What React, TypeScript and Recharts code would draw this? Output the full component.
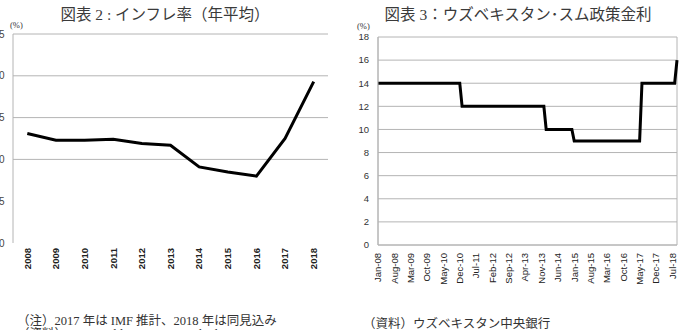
import React from 'react';
import { LineChart, Line, XAxis, YAxis, CartesianGrid } from 'recharts';

// ---- Chart 2: inflation (annual average) ----
const inflationYears = ['2008', '2009', '2010', '2011', '2012', '2013', '2014', '2015', '2016', '2017', '2018'];
const inflationValues = [13.1, 12.3, 12.3, 12.4, 11.9, 11.7, 9.1, 8.5, 8.0, 12.5, 19.3];
const inflationTicks = [0, 5, 10, 15, 20, 25];
const inflationGridValues = [10, 15, 20, 25];

// ---- Chart 3: Uzbek sum policy rate (monthly, Jan-08 .. Sep-18) ----
const rateMonthNames = ['Jan', 'Feb', 'Mar', 'Apr', 'May', 'Jun', 'Jul', 'Aug', 'Sep', 'Oct', 'Nov', 'Dec'];
const rateYearLabels = ['08', '09', '10', '11', '12', '13', '14', '15', '16', '17', '18'];
const rateValues = [
  14, 14, 14, 14, 14, 14, 14, 14, 14, 14, 14, 14, // 2008
  14, 14, 14, 14, 14, 14, 14, 14, 14, 14, 14, 14, // 2009
  14, 14, 14, 14, 14, 14, 14, 14, 14, 14, 14, 14, // 2010
  12, 12, 12, 12, 12, 12, 12, 12, 12, 12, 12, 12, // 2011
  12, 12, 12, 12, 12, 12, 12, 12, 12, 12, 12, 12, // 2012
  12, 12, 12, 12, 12, 12, 12, 12, 12, 12, 12, 12, // 2013
  10, 10, 10, 10, 10, 10, 10, 10, 10, 10, 10, 10, // 2014
  9, 9, 9, 9, 9, 9, 9, 9, 9, 9, 9, 9, // 2015
  9, 9, 9, 9, 9, 9, 9, 9, 9, 9, 9, 9, // 2016
  9, 9, 9, 9, 9, 14, 14, 14, 14, 14, 14, 14, // 2017
  14, 14, 14, 14, 14, 14, 14, 14, 16, // 2018 (Jan-Sep)
];
const rateTicks = [0, 2, 4, 6, 8, 10, 12, 14, 16, 18];

const inflationData = inflationYears.map((year, i) => ({ year, value: inflationValues[i] }));
const rateData = rateValues.map((value, i) => ({
  month: `${rateMonthNames[i % 12]}-${rateYearLabels[Math.floor(i / 12)]}`,
  value,
}));

const SANS = '"Liberation Sans", Arial, sans-serif';
const SERIF_JP = '"Liberation Serif", "Noto Sans CJK JP", serif';

const makeRotTick = (gap: number, fontSize: number, weight: number | string, fill: string) =>
  (props: any) => {
    const { x, y, payload } = props;
    return (
      <g transform={`translate(${x},${y + gap})`}>
        <text
          transform="rotate(-90)"
          textAnchor="end"
          dy="0.35em"
          fontSize={fontSize}
          fontFamily={SANS}
          fontWeight={weight}
          fill={fill}
        >
          {payload.value}
        </text>
      </g>
    );
  };

const LeftTick = makeRotTick(5, 9.5, 700, '#222');
const RightTick = makeRotTick(8, 9.5, 400, '#222');

export default function App() {
  return (
    <div style={{ position: 'relative', width: 683, height: 330, overflow: 'hidden', background: '#fff' }}>
      <style>{`body{margin:0;}`}</style>

      {/* Left chart */}
      <div style={{ position: 'absolute', left: -40, top: 0 }}>
        <LineChart
          width={380}
          height={330}
          data={inflationData}
          margin={{ top: 34, right: 12, bottom: 57, left: 23 }}
        >
          <CartesianGrid
            vertical={false}
            horizontalValues={inflationGridValues}
            stroke="#b4b4b4"
            strokeWidth={1}
          />
          <XAxis
            dataKey="year"
            interval={0}
            height={30}
            padding={{ left: 14.3, right: 14.3 }}
            axisLine={false}
            tickLine={false}
            tickSize={0}
            tickMargin={0}
            tick={LeftTick}
          />
          <YAxis
            width={30}
            domain={[0, 25]}
            ticks={inflationTicks}
            interval={0}
            axisLine={{ stroke: '#b4b4b4' }}
            tickLine={false}
            tickSize={0}
            tickMargin={8.5}
            tick={{ fontSize: 10, fontFamily: SANS, fill: '#444' }}
          />
          <Line
            type="linear"
            dataKey="value"
            stroke="#000"
            strokeWidth={3}
            dot={false}
            isAnimationActive={false}
          />
        </LineChart>
      </div>

      {/* Right chart */}
      <div style={{ position: 'absolute', left: 340, top: 0 }}>
        <LineChart
          width={343}
          height={330}
          data={rateData}
          margin={{ top: 37, right: 6, bottom: 55, left: 8 }}
        >
          <CartesianGrid
            stroke="#b4b4b4"
            strokeWidth={1}
            verticalCoordinatesGenerator={({ offset }: any) => [offset.left, offset.left + offset.width]}
          />
          <XAxis
            dataKey="month"
            scale="point"
            interval={6}
            height={30}
            axisLine={{ stroke: '#b4b4b4' }}
            tickLine={false}
            tickSize={0}
            tickMargin={0}
            tick={RightTick}
          />
          <YAxis
            width={30}
            domain={[0, 18]}
            ticks={rateTicks}
            interval={0}
            axisLine={{ stroke: '#b4b4b4' }}
            tickLine={false}
            tickSize={0}
            tickMargin={9}
            tick={{ fontSize: 9.5, fontFamily: SANS, fill: '#333' }}
          />
          <Line
            type="linear"
            dataKey="value"
            stroke="#000"
            strokeWidth={3}
            dot={false}
            isAnimationActive={false}
          />
        </LineChart>
      </div>

      {/* Titles, unit labels and notes */}
      <svg
        width={683}
        height={330}
        style={{ position: 'absolute', left: 0, top: 0, pointerEvents: 'none' }}
      >
        <text x={165} y={20} textAnchor="middle" fontSize={15.5} fontFamily={SERIF_JP} fill="#3a3a3a">
          図表 2 : インフレ率（年平均）
        </text>
        <text x={518} y={20} textAnchor="middle" fontSize={15.5} fontFamily={SERIF_JP} fill="#3a3a3a">
          図表 3：ウズベキスタン･スム政策金利
        </text>
        <text x={10} y={28} fontSize={8.5} fontFamily={SERIF_JP} fill="#333">(%)</text>
        <text x={357} y={29} fontSize={8.5} fontFamily={SERIF_JP} fill="#333">(%)</text>
        <text x={17} y={325} fontSize={12.5} fontFamily={SERIF_JP} fill="#333">
          （注）2017 年は IMF 推計、2018 年は同見込み
        </text>
        <text x={17} y={338} fontSize={12.5} fontFamily={SERIF_JP} fill="#333">
          （資料）IMF World Economic Outlook Oct. 2018
        </text>
        <text x={363} y={328} fontSize={12.5} fontFamily={SERIF_JP} fill="#333">
          （資料）ウズベキスタン中央銀行
        </text>
      </svg>
    </div>
  );
}
